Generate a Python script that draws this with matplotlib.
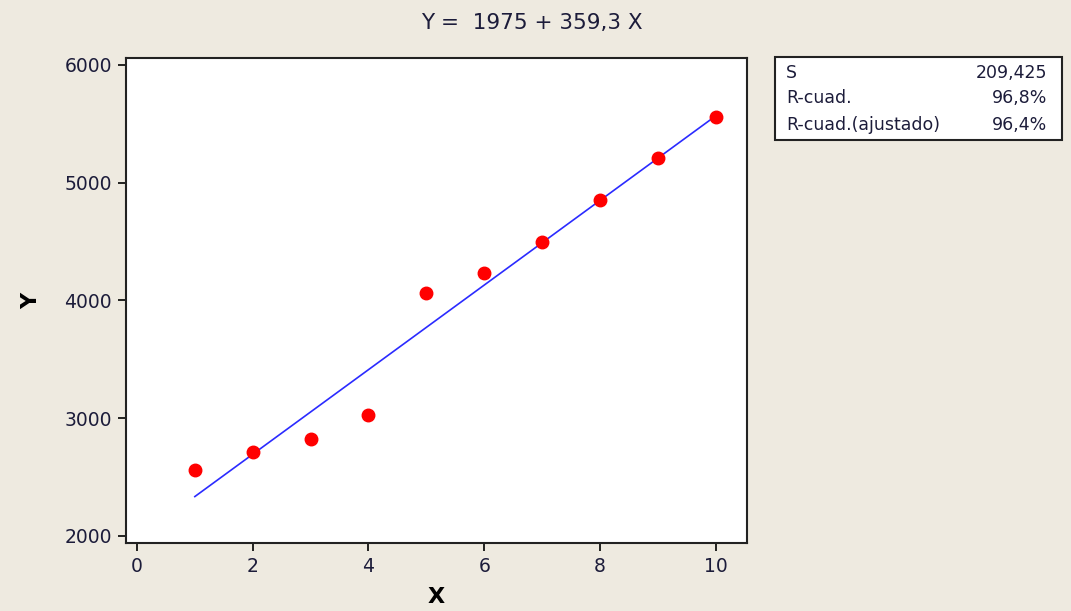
import numpy as np
import matplotlib
matplotlib.use("Agg")
import matplotlib.pyplot as plt
from matplotlib.patches import Rectangle

# data
x_vals = [1, 2, 3, 4, 5, 6, 7, 8, 9, 10]
y_vals = [2560, 2713, 2824, 3028, 4064, 4234, 4497, 4853, 5210, 5558]
intercept = 1975
slope = 359.3
stat_names = ["S", "R-cuad.", "R-cuad.(ajustado)"]
stat_values = ["209,425", "96,8%", "96,4%"]
x_ticks = [0, 2, 4, 6, 8, 10]
y_ticks = [2000, 3000, 4000, 5000, 6000]

bg = "#EEEAE0"
txt = "#1c1c3a"

fig = plt.figure(figsize=(10.71, 6.11), dpi=100, facecolor=bg)
ax = fig.add_axes([0.1176, 0.1113, 0.5799, 0.7937])
ax.set_facecolor("white")

fit_x = np.array([x_vals[0], x_vals[-1]])
ax.plot(fit_x, intercept + slope * fit_x, color="#2b2bff", lw=1.2, zorder=2)
ax.plot(x_vals, y_vals, "o", color="#ff0000", markersize=9, zorder=3)

ax.set_xlim(-0.19, 10.54)
ax.set_ylim(1940, 6059)
ax.set_xticks(x_ticks)
ax.set_yticks(y_ticks)
ax.tick_params(direction="out", length=6, width=1.2, labelsize=13.5, colors="black",
               labelcolor=txt, pad=4)
for s in ax.spines.values():
    s.set_linewidth(1.5)
    s.set_color("#222222")

ax.set_xlabel("X", fontsize=16, fontweight="bold", labelpad=8)
ax.set_ylabel("Y", fontsize=16, fontweight="bold", labelpad=17)

fig.text(0.497, 0.962, "Y =  1975 + 359,3 X", ha="center", va="center",
         fontsize=15.5, color=txt)

# stats box
fig.patches.append(Rectangle((0.7236, 0.7709), 0.268, 0.1358, transform=fig.transFigure,
                             facecolor="white", edgecolor="#222222", lw=1.5))
row_y = [0.8805, 0.8396, 0.7954]
for name, val, yy in zip(stat_names, stat_values, row_y):
    fig.text(0.734, yy, name, ha="left", va="center", fontsize=12.5, color=txt)
    fig.text(0.9776, yy, val, ha="right", va="center", fontsize=12.5, color=txt)

fig.savefig("out.png", dpi=100, facecolor=bg)
